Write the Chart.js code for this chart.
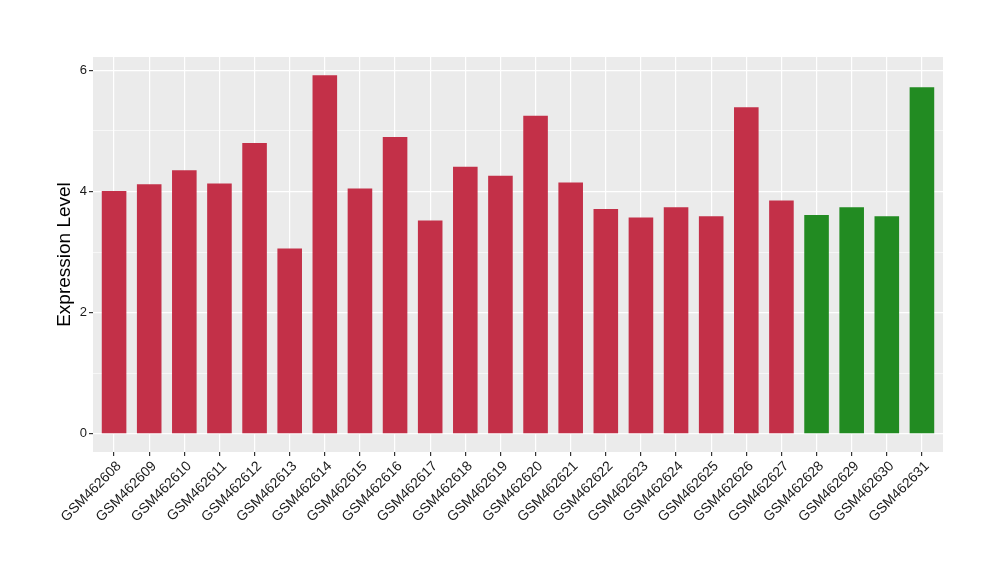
<!DOCTYPE html>
<html>
<head>
<meta charset="utf-8">
<script src="https://cdn.jsdelivr.net/npm/chart.js@4/dist/chart.umd.min.js"></script>
<style>
  html, body { margin: 0; padding: 0; background: #fff; }
  #wrap { width: 1000px; height: 580px; }
</style>
</head>
<body>
<div id="wrap"><canvas id="myChart" width="1000" height="580"></canvas></div>
<script>
// samples along the x axis
const samples = ['GSM462608', 'GSM462609', 'GSM462610', 'GSM462611', 'GSM462612', 'GSM462613',
    'GSM462614', 'GSM462615', 'GSM462616', 'GSM462617', 'GSM462618', 'GSM462619',
    'GSM462620', 'GSM462621', 'GSM462622', 'GSM462623', 'GSM462624', 'GSM462625',
    'GSM462626', 'GSM462627', 'GSM462628', 'GSM462629', 'GSM462630', 'GSM462631'];
// expression level per sample
const expression = [4.01, 4.12, 4.35, 4.13, 4.80, 3.06, 5.92, 4.05, 4.90, 3.52, 4.41, 4.26,
    5.25, 4.15, 3.71, 3.57, 3.74, 3.59, 5.39, 3.85, 3.61, 3.74, 3.59, 5.72];
// group of each sample (A = red, B = green)
const groups = ['A', 'A', 'A', 'A', 'A', 'A', 'A', 'A', 'A', 'A', 'A', 'A',
    'A', 'A', 'A', 'A', 'A', 'A', 'A', 'A', 'B', 'B', 'B', 'B'];
const yTicks = [0, 1, 2, 3, 4, 5, 6];

const groupColor = { A: 'rgb(195,48,72)', B: 'rgb(34,139,34)' };

// grey panel behind the grid, like ggplot
const panelBg = {
    id: 'panelBg',
    beforeDraw(chart) {
        const a = chart.chartArea;
        const ctx = chart.ctx;
        ctx.save();
        ctx.fillStyle = '#EBEBEB';
        ctx.fillRect(a.left, a.top, a.right - a.left, a.bottom - a.top);
        ctx.restore();
    }
};

const data = {
    datasets: [{
        data: expression.map((v, i) => ({ x: i + 1, y: v })),
        backgroundColor: groups.map(g => groupColor[g]),
        barPercentage: 0.7,
        categoryPercentage: 1
    }]
};

const config = {
    type: 'bar',
    data: data,
    options: {
        responsive: false,
        animation: false,
        layout: { padding: { top: 57, right: 57, left: 0, bottom: 0 } },
        plugins: { legend: { display: false }, tooltip: { enabled: false } },
        scales: {
            x: {
                type: 'linear',
                offset: false,
                min: 0.4,
                max: 24.6,
                afterBuildTicks: s => { s.ticks = samples.map((n, i) => ({ value: i + 1 })); },
                afterFit: s => { s.height = 128; },
                border: { display: false },
                grid: { color: '#FFFFFF', lineWidth: 1.2, tickColor: '#333333', tickLength: 4, offset: false },
                ticks: {
                    autoSkip: false,
                    maxRotation: 45,
                    minRotation: 45,
                    padding: 2,
                    labelOffset: 5,
                    color: '#1A1A1A',
                    font: { family: 'Liberation Sans', size: 14 },
                    callback: v => samples[v - 1]
                }
            },
            y: {
                min: -0.3,
                max: 6.22,
                afterBuildTicks: s => { s.ticks = yTicks.map(v => ({ value: v })); },
                afterFit: s => { s.width = 93; },
                border: { display: false },
                grid: {
                    color: '#FFFFFF',
                    lineWidth: c => (c.tick && c.tick.value % 2 === 0) ? 1.2 : 0.6,
                    tickColor: c => (c.tick && c.tick.value % 2 === 0) ? '#333333' : 'rgba(0,0,0,0)',
                    tickLength: 4
                },
                ticks: {
                    padding: 2,
                    color: '#1A1A1A',
                    font: { family: 'Liberation Sans', size: 13 },
                    callback: v => (v % 2 === 0 ? String(v) : '')
                },
                title: {
                    display: true,
                    text: 'Expression Level',
                    color: '#000000',
                    font: { family: 'Liberation Sans', size: 19 },
                    padding: { top: 53, bottom: 0 }
                }
            }
        }
    },
    plugins: [panelBg]
};

const myChart = new Chart(document.getElementById('myChart'), config);
</script>
</body>
</html>
